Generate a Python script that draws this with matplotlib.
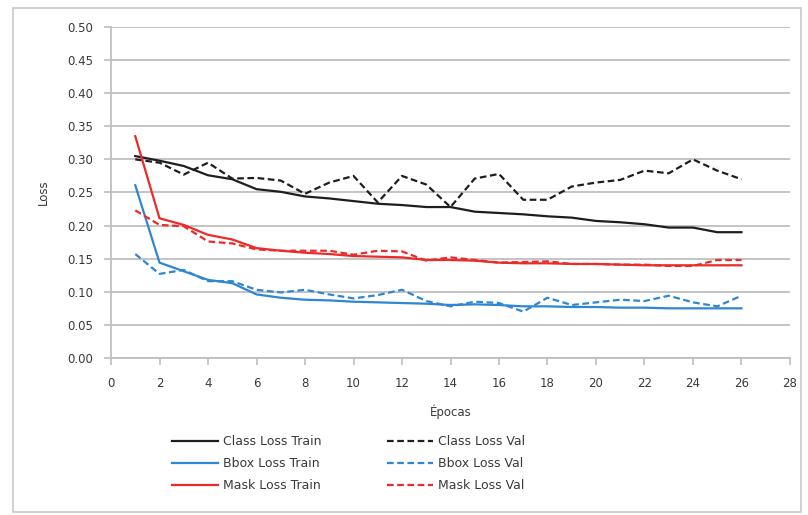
import matplotlib
matplotlib.use("Agg")
import matplotlib.pyplot as plt
from matplotlib.patches import Rectangle
from matplotlib.ticker import FormatStrFormatter

epochs = list(range(1, 27))

class_train = [0.305, 0.298, 0.290, 0.276, 0.270, 0.255, 0.251, 0.244, 0.241, 0.237, 0.233,
               0.231, 0.228, 0.228, 0.221, 0.219, 0.217, 0.214, 0.212, 0.207, 0.205, 0.202,
               0.197, 0.197, 0.190, 0.190]
class_val = [0.300, 0.295, 0.277, 0.295, 0.271, 0.272, 0.268, 0.248, 0.265, 0.275, 0.235,
             0.275, 0.262, 0.228, 0.271, 0.278, 0.239, 0.239, 0.259, 0.265, 0.269, 0.283,
             0.279, 0.300, 0.283, 0.270]
bbox_train = [0.261, 0.144, 0.131, 0.118, 0.113, 0.096, 0.091, 0.088, 0.087, 0.085, 0.084,
              0.083, 0.082, 0.080, 0.081, 0.080, 0.078, 0.078, 0.077, 0.077, 0.076, 0.076,
              0.075, 0.075, 0.075, 0.075]
bbox_val = [0.157, 0.127, 0.133, 0.116, 0.116, 0.103, 0.099, 0.103, 0.096, 0.090, 0.095,
            0.103, 0.086, 0.078, 0.085, 0.083, 0.070, 0.091, 0.080, 0.084, 0.088, 0.086,
            0.094, 0.084, 0.078, 0.094]
mask_train = [0.335, 0.211, 0.201, 0.186, 0.179, 0.166, 0.162, 0.159, 0.157, 0.154, 0.153,
              0.152, 0.148, 0.148, 0.147, 0.144, 0.143, 0.143, 0.142, 0.142, 0.141, 0.140,
              0.140, 0.140, 0.140, 0.140]
mask_val = [0.223, 0.201, 0.199, 0.176, 0.173, 0.164, 0.162, 0.162, 0.162, 0.156, 0.162,
            0.161, 0.147, 0.152, 0.148, 0.144, 0.145, 0.146, 0.142, 0.142, 0.141, 0.141,
            0.139, 0.139, 0.148, 0.148]

black = "#1e1e1e"
blue = "#2f86d2"
red = "#ec2a2a"
grid_c = "#bfbfbf"
text_c = "#3a3a3a"

plt.rcParams["font.family"] = ["DejaVu Sans"]

fig = plt.figure(figsize=(8.08, 5.15), dpi=100)
ax = fig.add_axes([0.1374, 0.3049, 0.8403, 0.6427])

lw = 1.6
dash = (0, (3, 1.6))
ax.plot(epochs, class_train, color=black, lw=lw, label="Class Loss Train")
ax.plot(epochs, class_val, color=black, lw=lw, ls=dash, label="Class Loss Val")
ax.plot(epochs, bbox_train, color=blue, lw=lw, label="Bbox Loss Train")
ax.plot(epochs, bbox_val, color=blue, lw=lw, ls=dash, label="Bbox Loss Val")
ax.plot(epochs, mask_train, color=red, lw=lw, label="Mask Loss Train")
ax.plot(epochs, mask_val, color=red, lw=lw, ls=dash, label="Mask Loss Val")

ax.set_xlim(0, 28)
ax.set_ylim(0, 0.5)
ax.set_xticks(range(0, 29, 2))
ax.set_yticks([i * 0.05 for i in range(11)])
ax.yaxis.set_major_formatter(FormatStrFormatter("%.2f"))
ax.yaxis.grid(True, color=grid_c, lw=1.3)
ax.set_axisbelow(True)
for s in ["top", "right"]:
    ax.spines[s].set_visible(False)
for s in ["left", "bottom"]:
    ax.spines[s].set_color(grid_c)
    ax.spines[s].set_linewidth(1.3)
ax.tick_params(axis="both", colors=grid_c, labelcolor=text_c, labelsize=8.5, length=5, width=1.2)
ax.tick_params(axis="y", pad=8)
ax.tick_params(axis="x", pad=9)

ax.set_xlabel("Épocas", fontsize=8.5, color=text_c, labelpad=10)
ax.set_ylabel("Loss", fontsize=8.5, color=text_c, labelpad=12)

handles, labels = ax.get_legend_handles_labels()
order = [0, 2, 4, 1, 3, 5]
fig.legend([handles[i] for i in order], [labels[i] for i in order],
           loc="upper left", bbox_to_anchor=(0.213, 0.155), ncol=2, frameon=False,
           fontsize=9, handlelength=3.7, handletextpad=0.4, columnspacing=5.2,
           labelspacing=0.72, borderpad=0, borderaxespad=0, labelcolor=text_c)

fig.patches.append(Rectangle((0.016, 0.006), 0.975, 0.978, transform=fig.transFigure,
                             fill=False, edgecolor="#c8c8c8", lw=1.2))

fig.savefig("out.png", dpi=100)
